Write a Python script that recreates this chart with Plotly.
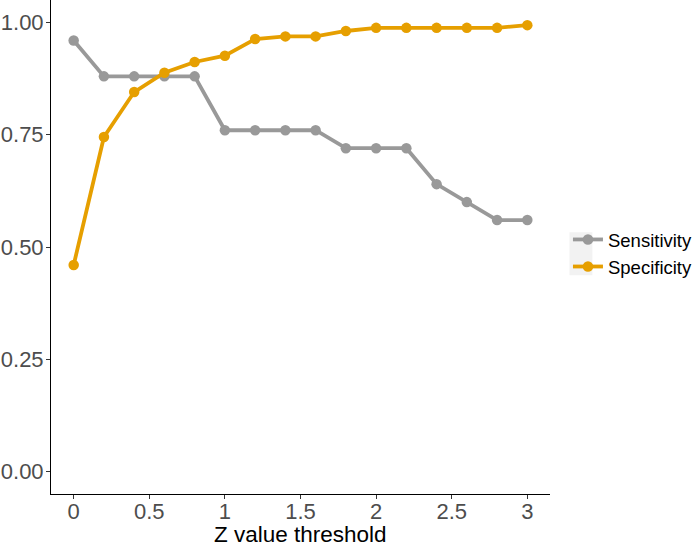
import plotly.graph_objects as go

thresholds = [0, 0.2, 0.4, 0.6, 0.8, 1.0, 1.2, 1.4, 1.6, 1.8, 2.0, 2.2, 2.4, 2.6, 2.8, 3.0]
sensitivity = [0.96, 0.88, 0.88, 0.88, 0.88, 0.76, 0.76, 0.76, 0.76, 0.72, 0.72, 0.72, 0.64, 0.60, 0.56, 0.56]
specificity = [0.46, 0.745, 0.845, 0.888, 0.912, 0.926, 0.963, 0.969, 0.969, 0.981, 0.988, 0.988, 0.988, 0.988, 0.988, 0.994]
x_ticks = [0, 0.5, 1, 1.5, 2, 2.5, 3]
x_tick_labels = ["0", "0.5", "1", "1.5", "2", "2.5", "3"]
y_ticks = [0, 0.25, 0.5, 0.75, 1.0]
y_tick_labels = ["0.00", "0.25", "0.50", "0.75", "1.00"]
x_title = "Z value threshold"

fig = go.Figure()
fig.add_trace(go.Scatter(x=thresholds, y=sensitivity, mode="lines+markers", name="Sensitivity",
                         line=dict(color="#999999", width=3.8), marker=dict(color="#999999", size=10.5)))
fig.add_trace(go.Scatter(x=thresholds, y=specificity, mode="lines+markers", name="Specificity",
                         line=dict(color="#E69F00", width=3.8), marker=dict(color="#E69F00", size=10.5)))

fig.update_layout(
    width=700, height=545,
    margin=dict(l=51, r=150, t=0, b=51),
    paper_bgcolor="white", plot_bgcolor="white",
    font=dict(family="Liberation Sans, Arial, sans-serif", color="black"),
    legend=dict(x=1.036, y=0.487, xanchor="left", yanchor="middle",
                font=dict(size=18.5, color="black"), bgcolor="rgba(0,0,0,0)",
                tracegroupgap=0, itemwidth=30),
    shapes=[dict(type="rect", xref="paper", yref="paper",
                 x0=1.039, x1=1.085, y0=0.443, y1=0.53,
                 fillcolor="#f2f2f2", line=dict(width=0), layer="below")],
    annotations=[dict(text=x_title, xref="paper", yref="paper", x=0.5, y=-0.081,
                      xanchor="center", yanchor="middle", showarrow=False,
                      font=dict(size=22.5, color="black"))],
)
fig.update_xaxes(range=[-0.15, 3.15], tickvals=x_ticks, ticktext=x_tick_labels,
                 showgrid=False, zeroline=False, showline=True, linecolor="black", linewidth=1,
                 ticks="outside", ticklen=4, tickcolor="#333333", ticklabelstandoff=-6,
                 tickfont=dict(size=22, color="#4d4d4d"))
fig.update_yaxes(range=[-0.05, 1.05], tickvals=y_ticks, ticktext=y_tick_labels,
                 showgrid=False, zeroline=False, showline=True, linecolor="black", linewidth=1,
                 ticks="outside", ticklen=4, tickcolor="#333333", ticklabelstandoff=-2,
                 tickfont=dict(size=22, color="#4d4d4d"))

fig.write_html("out.html")
